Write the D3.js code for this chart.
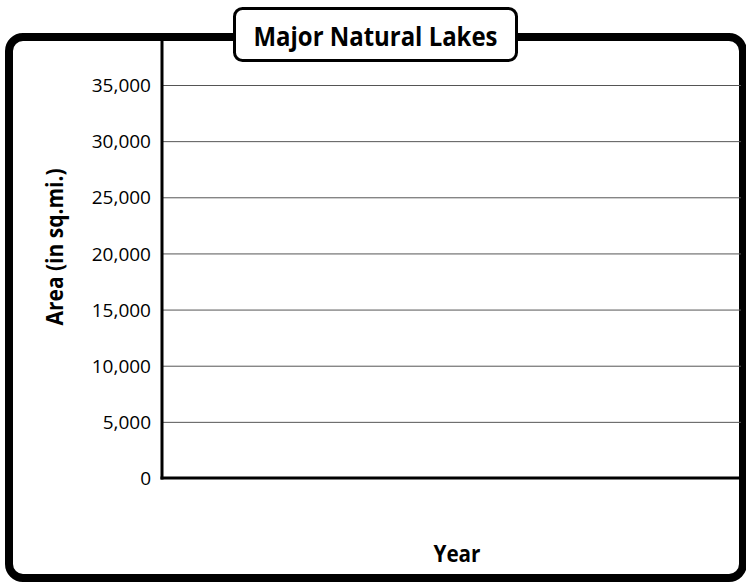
<!DOCTYPE html>
<html>
<head>
<meta charset="utf-8">
<script src="https://cdn.jsdelivr.net/npm/d3@7"></script>
<style>
    body { margin: 0; background: #fff; }
    .tick text { font-family: "Open Sans", sans-serif; font-size: 19px; fill: #000; }
    .bold { font-family: "Open Sans", sans-serif; font-weight: bold; fill: #000; }
</style>
</head>
<body>
<script>
// Chart text and values
var chartTitle = "Major Natural Lakes";
var yTitle = "Area (in sq.mi.)";
var xTitle = "Year";
var yTicks = [0, 5000, 10000, 15000, 20000, 25000, 30000, 35000];
var years = []; // blank template, no years filled in

window.onload = function(){

    var w = 746, h = 584;

    var svg = d3.select("body")
        .append("svg")
        .attr("width", w)
        .attr("height", h)
        .attr("class", "container");

    // Plot area edges
    var left = 162, right = 741, top = 37, bottom = 478;

    // Scale for the area values
    var y = d3.scaleLinear()
        .domain([0, d3.max(yTicks)])
        .range([bottom, 85]);

    // Year scale (empty template)
    var x = d3.scaleBand()
        .domain(years)
        .range([left, right]);

    // Outer rounded frame
    svg.append("rect")
        .attr("x", 9)
        .attr("y", top)
        .attr("width", 734)
        .attr("height", 541)
        .attr("rx", 14)
        .style("fill", "none")
        .style("stroke", "#000")
        .style("stroke-width", 8);

    // Y axis with gridlines
    var yAxis = d3.axisLeft(y)
        .tickValues(yTicks)
        .tickSizeInner(-(right - left))
        .tickSizeOuter(0)
        .tickPadding(11)
        .tickFormat(d3.format(","));

    var axis = svg.append("g")
        .attr("class", "axis")
        .attr("transform", "translate(" + left + ",0)")
        .call(yAxis);

    axis.select(".domain").remove();
    axis.selectAll(".tick line")
        .style("stroke", "#555")
        .style("stroke-width", 1);
    axis.selectAll(".tick text")
        .attr("dy", "0.35em");

    // Vertical axis line goes up to the frame
    svg.append("line")
        .attr("x1", left).attr("x2", left)
        .attr("y1", top).attr("y2", y(0) + 1.5)
        .style("stroke", "#000")
        .style("stroke-width", 3);

    // Horizontal axis line
    svg.append("line")
        .attr("x1", left - 1.5).attr("x2", 743)
        .attr("y1", y(0)).attr("y2", y(0))
        .style("stroke", "#000")
        .style("stroke-width", 3);

    // Title box
    svg.append("rect")
        .attr("x", 234.5)
        .attr("y", 8.5)
        .attr("width", 282)
        .attr("height", 52)
        .attr("rx", 8)
        .style("fill", "#fff")
        .style("stroke", "#000")
        .style("stroke-width", 3);

    // Bold labels are squeezed to the narrow face of the original
    svg.append("text")
        .attr("class", "bold")
        .attr("x", 375.5)
        .attr("y", 46)
        .attr("text-anchor", "middle")
        .attr("textLength", 244)
        .attr("lengthAdjust", "spacingAndGlyphs")
        .style("font-size", "27px")
        .text(chartTitle);

    // Axis titles
    svg.append("text")
        .attr("class", "bold")
        .attr("transform", "translate(63,247) rotate(-90)")
        .attr("text-anchor", "middle")
        .attr("textLength", 157)
        .attr("lengthAdjust", "spacingAndGlyphs")
        .style("font-size", "23px")
        .text(yTitle);

    svg.append("text")
        .attr("class", "bold")
        .attr("x", 457)
        .attr("y", 562)
        .attr("text-anchor", "middle")
        .attr("textLength", 47)
        .attr("lengthAdjust", "spacingAndGlyphs")
        .style("font-size", "23px")
        .text(xTitle);
};
</script>
</body>
</html>
